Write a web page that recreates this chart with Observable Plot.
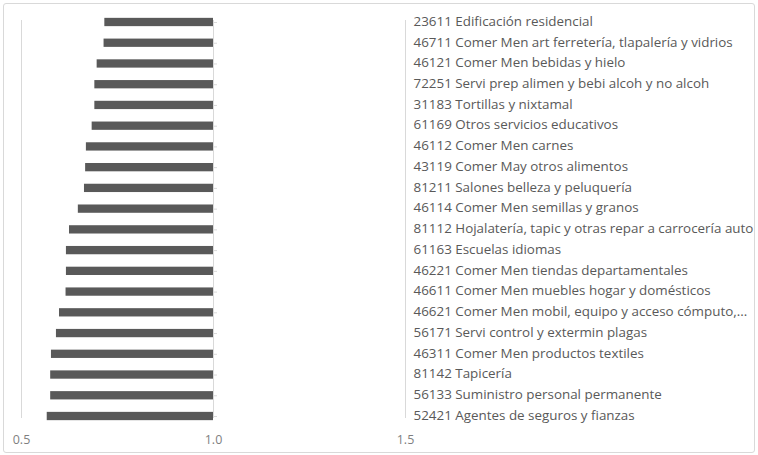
<!DOCTYPE html>
<html>
<head>
<meta charset="utf-8">
<script src="https://cdn.jsdelivr.net/npm/d3@7"></script>
<script src="https://cdn.jsdelivr.net/npm/@observablehq/plot@0.6"></script>
<style>
  html, body { margin: 0; padding: 0; background: #fff; }
  #wrap { position: relative; width: 758px; height: 455px; overflow: hidden; }
  #border { position: absolute; left: 3px; top: 3px; width: 750px; height: 448px; border: 1px solid #d9d9d9; border-radius: 3px; pointer-events: none; }
</style>
</head>
<body>
<div id="wrap"><div id="border"></div></div>
<script>
const categories = [
  "23611 Edificación residencial",
  "46711 Comer Men art ferretería, tlapalería y vidrios",
  "46121 Comer Men bebidas y hielo",
  "72251 Servi prep alimen y bebi alcoh y no alcoh",
  "31183 Tortillas y nixtamal",
  "61169 Otros servicios educativos",
  "46112 Comer Men carnes",
  "43119 Comer May otros alimentos",
  "81211 Salones belleza y peluquería",
  "46114 Comer Men semillas y granos",
  "81112 Hojalatería, tapic y otras repar a carrocería auto",
  "61163 Escuelas idiomas",
  "46221 Comer Men tiendas departamentales",
  "46611 Comer Men muebles hogar y domésticos",
  "46621 Comer Men mobil, equipo y acceso cómputo,...",
  "56171 Servi control y extermin plagas",
  "46311 Comer Men productos textiles",
  "81142 Tapicería",
  "56133 Suministro personal permanente",
  "52421 Agentes de seguros y fianzas"
];
const values = [0.717, 0.715, 0.697, 0.691, 0.691, 0.684, 0.669, 0.667, 0.664, 0.648,
                0.625, 0.617, 0.617, 0.616, 0.599, 0.591, 0.578, 0.576, 0.576, 0.567];
const baseline = 1.0;
const xTicks = [0.5, 1.0, 1.5];
const tickLabels = ["0.5", "1.0", "1.5"];
const labelColumn = 1.5;

const data = categories.map((c, i) => ({name: c, value: values[i]}));

const chart = Plot.plot({
  width: 758,
  height: 455,
  marginLeft: 21,
  marginRight: 353,
  marginTop: 11,
  marginBottom: 28,
  style: {fontFamily: "'Open Sans', sans-serif", background: "transparent", overflow: "visible"},
  x: {type: "linear", domain: [0.5, 1.5], axis: null},
  y: {domain: categories, axis: null, paddingInner: 0.6, paddingOuter: 0.33, round: false},
  marks: [
    Plot.ruleX(xTicks, {x: d => d, stroke: "#d9d9d9", strokeWidth: 1, insetTop: 9, insetBottom: 9}),
    Plot.barX(data, {x1: "value", x2: () => baseline, y: "name", fill: "#595959"}),
    Plot.ruleY(data, {y: "name", x1: () => baseline, x2: () => baseline, insetRight: -4, stroke: "#d9d9d9", strokeWidth: 1}),
    Plot.text(data, {x: () => labelColumn, y: "name", text: "name", dx: 8, dy: -1, textAnchor: "start", fill: "#595959", fontSize: 13.4}),
    Plot.text(xTicks, {x: d => d, frameAnchor: "bottom", text: (d, i) => tickLabels[i], dy: 16, fill: "#7f7f7f", fontSize: 12.5})
  ]
});
document.getElementById("wrap").prepend(chart);
</script>
</body>
</html>
